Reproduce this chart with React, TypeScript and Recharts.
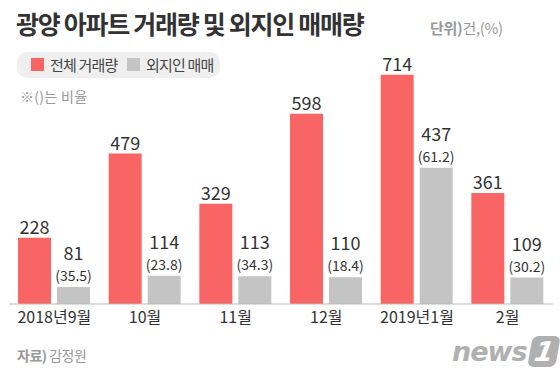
import { BarChart, Bar, XAxis, YAxis, LabelList } from "recharts";

const months = ["2018년9월", "10월", "11월", "12월", "2019년1월", "2월"];
const totalDeals = [228, 479, 329, 598, 714, 361];
const outsiderDeals = [81, 114, 113, 110, 437, 109];
const outsiderRatio = ["35.5", "23.8", "34.3", "18.4", "61.2", "30.2"];

const data = months.map((m, i) => ({
  month: m,
  total: totalDeals[i],
  outsider: outsiderDeals[i],
  ratio: outsiderRatio[i],
}));

const RED = "#f96565";
const GRAY = "#c4c4c4";
const FONT = "'Noto Sans CJK KR', 'Noto Sans', sans-serif";

function OutsiderLabel(props: any) {
  const { x, y, width, index } = props;
  const cx = x + width / 2;
  return (
    <g>
      <text x={cx} y={y - 27} textAnchor="middle" fontSize={18} fill="#333" fontFamily={FONT}>
        {outsiderDeals[index]}
      </text>
      <text x={cx} y={y - 6} textAnchor="middle" fontSize={14} fill="#333" fontFamily={FONT}>
        ({outsiderRatio[index]})
      </text>
    </g>
  );
}

export default function App() {
  return (
    <div
      style={{
        position: "absolute",
        left: 0,
        top: 0,
        width: 560,
        height: 383,
        background: "#fff",
        fontFamily: FONT,
        overflow: "hidden",
      }}
    >
      <div
        style={{
          position: "absolute",
          left: 16,
          top: 5,
          fontSize: 25,
          fontWeight: 700,
          color: "#333",
          letterSpacing: -1.3,
          whiteSpace: "nowrap",
        }}
      >
        광양 아파트 거래량 및 외지인 매매량
      </div>
      <div
        style={{
          position: "absolute",
          left: 430,
          top: 17,
          fontSize: 15,
          color: "#999",
          letterSpacing: -0.3,
          whiteSpace: "nowrap",
        }}
      >
        <b>단위)</b>건,(%)
      </div>
      <div
        style={{
          position: "absolute",
          left: 17,
          top: 52,
          width: 203,
          height: 26,
          background: "#efefef",
          borderRadius: 10,
        }}
      />
      <div style={{ position: "absolute", left: 31, top: 58, width: 13, height: 13, background: RED }} />
      <div
        style={{ position: "absolute", left: 50, top: 54, fontSize: 15, color: "#444", letterSpacing: -0.8, whiteSpace: "nowrap" }}
      >
        전체 거래량
      </div>
      <div style={{ position: "absolute", left: 127, top: 58, width: 13, height: 13, background: GRAY }} />
      <div
        style={{ position: "absolute", left: 146, top: 54, fontSize: 15, color: "#444", letterSpacing: -0.8, whiteSpace: "nowrap" }}
      >
        외지인 매매
      </div>
      <div
        style={{ position: "absolute", left: 20, top: 86, fontSize: 14, color: "#999", letterSpacing: 0.3, whiteSpace: "nowrap" }}
      >
        ※()는 비율
      </div>

      <div style={{ position: "absolute", left: 0, top: 0 }}>
        <BarChart
          width={560}
          height={383}
          data={data}
          margin={{ top: 40, right: 7, left: 9, bottom: 49 }}
          barGap={6}
        >
          <XAxis
            dataKey="month"
            height={30}
            tickLine={false}
            axisLine={{ stroke: "#bbb" }}
            tick={{ fontSize: 16, fill: "#333", fontFamily: FONT }}
            interval={0}
          />
          <YAxis hide domain={[30, 818]} />
          <Bar dataKey="total" fill={RED} barSize={33} isAnimationActive={false}>
            <LabelList
              dataKey="total"
              position="top"
              offset={4}
              style={{ fontSize: 18, fill: "#333", fontFamily: FONT }}
            />
          </Bar>
          <Bar dataKey="outsider" fill={GRAY} barSize={33} isAnimationActive={false}>
            <LabelList dataKey="outsider" content={OutsiderLabel} />
          </Bar>
        </BarChart>
      </div>

      <div
        style={{ position: "absolute", left: 17, top: 345, fontSize: 14, color: "#999", letterSpacing: -0.5, whiteSpace: "nowrap" }}
      >
        <b>자료)</b> 감정원
      </div>
      <div
        style={{
          position: "absolute",
          left: 452,
          top: 336,
          fontSize: 27,
          fontWeight: 900,
          fontStyle: "italic",
          color: "#b0b0b0",
          fontFamily: "'DejaVu Sans', sans-serif",
          letterSpacing: -1,
        }}
      >
        news
        <span
          style={{
            display: "inline-block",
            marginLeft: 3,
            background: "#b0b0b0",
            color: "#fff",
            borderRadius: 6,
            padding: "0 5px",
            transform: "skewX(-10deg)",
          }}
        >
          1
        </span>
      </div>
    </div>
  );
}
